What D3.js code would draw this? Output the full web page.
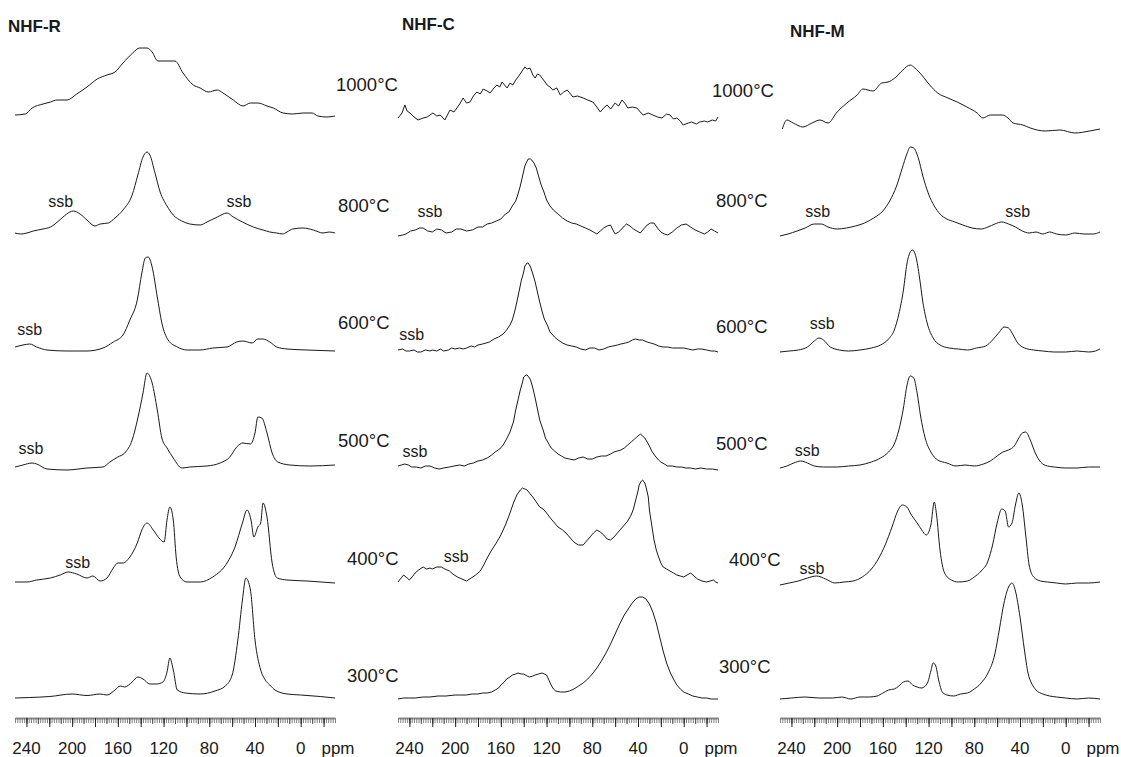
<!DOCTYPE html>
<html>
<head>
<meta charset="utf-8">
<script src="https://cdn.jsdelivr.net/npm/d3@7"></script>
<style>
  body { margin: 0; background: #fff; }
  svg { display: block; font-family: "Liberation Sans", Arial, sans-serif; }
  .spec { fill: none; stroke: #1a1a1a; stroke-width: 1; stroke-linejoin: round; }
  .temp { font-size: 18.5px; fill: #1a1a1a; }
  .ssb { font-size: 16px; fill: #1a1a1a; }
  .title { font-size: 17px; font-weight: bold; fill: #1a1a1a; }
  .tick-label { font-size: 17px; fill: #1a1a1a; }
</style>
</head>
<body>
<div id="chart"></div>
<script>
// ---- data: [ppm, intensity] ----
const panels = ['NHF-R', 'NHF-C', 'NHF-M'];
const temps = ['1000°C', '800°C', '600°C', '500°C', '400°C', '300°C'];
const tickLabels = [240, 200, 160, 120, 80, 40, 0];

const R1000 = [[250,1],[241,2],[235,8],[225.5,12],[219,14],[213,16],[204.5,16],[196,22],[187,29],[178,37],[169.5,41],[162.5,44],[155.5,53],[147,63],[141,68],[134.5,68],[130,64],[125,55],[117,55],[110,55],[103,43],[94,31],[88,28],[81,24],[73,26],[68,23],[59,16],[50.5,10],[44,13],[37.5,13],[29.5,10],[24,8],[15.5,3],[7,2],[-2,3],[-10,3],[-15,0],[-23,-1],[-30,0]];
const R800 = [[250,1],[245,0],[239.5,1],[234,3],[225.5,5],[219,7],[215,10],[208,17],[202,22],[199,23],[193,20],[187,14],[180,8],[175.5,10],[168.5,11],[162.5,16],[155.5,24],[147.5,39],[142.5,59],[138,77],[134.5,82],[132,79],[127.5,61],[123,42],[117,28],[111.5,19],[104,13],[97,10],[88,9],[82,12],[73,17],[64.5,21],[59,17],[51,12],[41.5,7],[33,4],[27,2],[21,1],[16,0],[12,2],[7,5],[-2,6],[-11,4],[-19.5,1],[-25,2],[-30,1]];
const R600 = [[250,4],[243,6],[237,7],[231,4],[222,1],[204.5,0],[187,0],[173,3],[164,9],[155.5,16],[149.5,31],[143,51],[139,78],[136,93],[133.5,94],[130,84],[125.5,54],[121.5,28],[116,11],[108,4],[99.5,1],[88,1],[77,3],[64.5,4],[56,9],[50.5,10],[42.5,8],[37.5,12],[33,12],[27,9],[21,4],[12,2],[-5.5,1],[-30,0]];
const R500 = [[250,2],[243,4],[235,6],[231,5],[222,0],[204.5,-1],[187,1],[173,2],[167,7],[160,12],[154,16],[147.5,29],[142.5,51],[138,76],[134.5,96],[130,86],[125.5,59],[121.5,31],[117,21],[111.5,11],[104,1],[97,2],[82,3],[70.5,6],[62,12],[56,22],[50.5,26],[44,25],[40,36],[37.5,52],[34,51],[29.5,36],[25,16],[20,7],[9.5,4],[-8,3],[-30,4]];
const R400 = [[250,0],[239.5,0],[231,2],[219,4],[210.5,7],[203.5,10],[196,8],[187,4],[182,6],[175.5,1],[169.5,4],[164,14],[160,19],[155.5,19],[149.5,25],[143,39],[139,52],[134.5,59],[129,52],[124,44],[119.5,40],[117,62],[114.5,75],[111.5,62],[109,25],[105.5,5],[99.5,0],[88,0],[77,5],[64.5,19],[57.5,35],[51,59],[47,72],[43.5,62],[41,45],[37.5,55],[35,59],[33,79],[29.5,65],[25,19],[20.5,4],[12,2],[-5.5,1],[-30,-1]];
const R300 = [[250,0],[237,0.5],[219.5,1.5],[200,4],[187,2.5],[175.5,4],[169.5,3],[162.5,8],[158,12],[154,11],[147.5,16],[142.5,21],[138,19],[132,14],[126,14],[120.5,16],[117,26],[114.5,40],[111.5,28],[108,8],[101,5],[88,4],[75,7],[66,12],[60,23],[55,58],[51,98],[48,120],[44,108],[40,58],[35,28],[31,18],[27,13],[22.5,8],[12,4],[0,3],[-17,1.5],[-30,0]];

const C1000 = [[250,3],[246.5,8],[244,16],[242,10],[239.5,8],[236,4],[232.5,1],[228,3],[224.5,4],[219.5,8],[216,5],[213,6],[209,1],[204.5,11],[201,9],[198.5,13],[196,17],[193,23],[190,18],[187,19],[184,25],[181,29],[178,27],[175.5,32],[172,30],[169.5,28],[166,33],[163.5,36],[161,34],[159,39],[156,35],[154.5,33],[152,38],[149.5,36],[147,41],[145,44],[142,49],[139,54],[137,52],[134.5,53],[132,46],[130,43],[128,47],[126,46],[122,40],[119.5,36],[117,34],[114.5,31],[111,33],[108,26],[105,29],[102,31],[99,27],[97,24],[93,25],[88,23],[84,21],[79.5,19],[76,14],[73,9],[70,13],[67,16],[64,12],[60,18],[57,15],[54,21],[51,17],[49,13],[45,14],[41,13],[38,9],[35.5,6],[31,8],[27,6],[23,4],[19,3],[15,7],[12,6],[9,2],[6,3],[3,0],[0.5,-4],[-4,-2],[-7,-1],[-11,-3],[-14,-1],[-18,0],[-21,-1],[-25,1],[-28,0],[-30,4]];
const C800 = [[250,0],[246,1],[243,2],[239,5],[235,6],[231,8],[228,8],[224,5],[220,4],[216,7],[212,6],[208,3],[203,4],[199,7],[195,7],[190,5],[185,6],[180,9],[176,9],[172,12],[168,13],[164,15],[160,17],[156,22],[153,24],[150,30],[147,35],[145,42],[143,50],[141,60],[139,70],[137,75],[136,77],[134,77],[133,76],[131,73],[129,68],[127,60],[125,52],[122,43],[120,36],[117,30],[114,26],[110,22],[106,18],[102,15],[98,13],[94,12],[90,10],[86,8],[82,6],[79,4],[76,2],[73,5],[70,8],[67,10],[64,11],[62,6],[60,2],[57,4],[55,6],[52,10],[50,12],[47,10],[44,7],[41,5],[38,3],[35,7],[32,11],[29,13],[26,13],[23,8],[20,4],[17,2],[14,1],[10,4],[6,8],[2,11],[-2,12],[-6,9],[-10,6],[-14,4],[-18,2],[-21,4],[-24,7],[-27,5],[-30,3]];
const C600 = [[250,2],[246,3],[243,1],[240,1],[236,2],[233,0],[230,0],[226,2],[222,1],[220,2],[216,1],[213,3],[210,1],[206,2],[203,4],[200,3],[196,4],[193,3],[190,4],[186,6],[183,5],[180,7],[176,8],[173,9],[170,10],[166,13],[162,15],[158,18],[155,22],[152,27],[150,32],[148,40],[146,50],[144,61],[142,72],[140,80],[139,86],[137,89],[136,89],[134,85],[132,78],[130,70],[128,60],[126,50],[124,41],[122,33],[119,26],[117,20],[113,15],[110,12],[106,9],[102,7],[98,6],[94,5],[90,3],[86,2],[82,4],[78,4],[74,2],[70,3],[66,5],[62,6],[58,7],[55,8],[51,9],[48,10],[45,12],[42,13],[39,12],[36,12],[32,10],[29,9],[26,8],[22,6],[18,5],[14,5],[10,4],[5,4],[0,4],[-4,3],[-8,2],[-12,3],[-16,3],[-20,2],[-24,1],[-27,1],[-30,0]];
const C500 = [[250,4],[247,5],[244,6],[241,5],[238,3],[234,3],[230,2],[226,4],[222,4],[218,2],[214,1],[210,2],[205,3],[201,4],[196,5],[192,4],[188,6],[184,7],[180,9],[176,10],[172,12],[168,15],[165,18],[161,21],[158,25],[155,31],[152,38],[149,48],[147,60],[145,70],[143,80],[141,88],[140,93],[138,95],[137,95],[135,92],[134,90],[132,82],[130,72],[128,61],[126,50],[123,40],[121,32],[118,26],[116,22],[113,19],[110,16],[107,14],[104,12],[100,11],[96,10],[92,12],[88,13],[84,11],[80,11],[76,13],[72,14],[68,14],[64,16],[61,18],[58,19],[55,20],[52,22],[49,25],[46,28],[43,31],[41,33],[39,35],[38,36],[36,34],[34,32],[32,28],[30,24],[28,19],[25,14],[22,10],[20,8],[17,6],[14,4],[10,4],[6,3],[2,3],[-2,2],[-6,2],[-10,1],[-15,2],[-20,1],[-25,1],[-30,0]];
const C400 = [[250,3],[248,6],[245,10],[242,7],[240,5],[237,9],[235,12],[232,15],[228,18],[225,16],[222,17],[220,16],[216,18],[212,18],[209,16],[205,14],[202,11],[198,8],[194,6],[190,4],[186,7],[182,10],[178,14],[175,20],[172,27],[168,35],[164,42],[160,50],[156,60],[152,72],[149,82],[146,90],[143,95],[141,97],[139,96],[137,95],[135,92],[132,88],[129,83],[126,78],[123,76],[120,72],[116,66],[113,62],[110,58],[106,55],[103,52],[100,48],[97,44],[95,42],[92,40],[88,40],[85,44],[82,48],[79,52],[76,55],[73,53],[70,50],[67,46],[64,45],[61,48],[58,52],[55,56],[52,60],[49,64],[46,70],[44,76],[42,85],[40,94],[39,100],[37,104],[36,105],[34,102],[33,98],[31,88],[30,75],[28,60],[26,45],[24,35],[22,28],[20,22],[18,18],[15,16],[12,14],[9,12],[6,10],[3,9],[0,8],[-3,10],[-6,12],[-9,9],[-12,6],[-16,4],[-20,3],[-23,4],[-26,5],[-28,3],[-30,2]];
const C300 = [[250,0],[245,1],[240,1],[235,1],[228,2],[222,2],[215,3],[208,3],[200,4],[195,4],[190,4],[185,5],[180,5],[176,6],[172,6],[168,7],[165,9],[162,11],[160,14],[157,17],[155,20],[152,22],[150,24],[147,25],[145,26],[142,25],[140,25],[137,23],[135,22],[132,23],[130,24],[127,25],[124,26],[122,25],[120,24],[118,19],[116,14],[114,10],[112,8],[108,7],[104,7],[100,8],[96,10],[92,13],[88,16],[84,20],[80,25],[76,31],[72,38],[68,46],[64,55],[60,65],[56,75],[52,84],[48,91],[45,96],[42,100],[39,102],[36,102],[33,100],[30,95],[27,87],[24,76],[21,62],[18,48],[15,36],[12,27],[9,20],[6,14],[3,10],[0,7],[-4,5],[-8,3],[-12,2],[-16,1],[-20,1],[-24,0],[-30,0]];

const M1000 = [[248,2],[244,11],[238.5,8],[230,4],[222,8],[215,11],[208,8],[200,19],[191.5,28],[182.5,36],[177.5,42],[168.5,40],[161,48],[155.5,49],[149.5,53],[142.5,61],[136,66],[132,63],[126,56],[119,46],[112,38],[103,33],[95,29],[86.5,24],[77.5,18],[72.5,13],[66,16],[55.5,16],[50.5,13],[46,8],[37.5,6],[31,3],[18,0],[5,1],[-8,-2],[-21,0],[-30,2]];
const M800 = [[250,0],[243,2],[235,5],[228,8],[220,12],[214,12],[208,9],[200,7],[192,8],[184,10],[176,13],[168,18],[160,25],[154,35],[148,50],[143,68],[139,82],[136,89],[133,88],[129,78],[125,60],[120,42],[115,30],[110,22],[104,17],[97,14],[90,11],[82,8],[74,7],[68,9],[62,12],[56,14],[50,12],[44,9],[38,5],[32,3],[26,4],[20,2],[14,4],[8,2],[0,1],[-8,3],[-16,2],[-24,2],[-30,4]];
const M600 = [[250,0],[242,1],[234,2],[226,5],[220,11],[216,14],[212,12],[206,5],[198,2],[190,1],[180,2],[170,4],[162,7],[155,13],[150,22],[146,38],[142,62],[139,88],[136,100],[134,102],[131,95],[128,75],[125,50],[121,28],[116,14],[110,7],[102,4],[94,3],[86,2],[78,4],[70,6],[64,12],[58,20],[54,25],[50,24],[46,17],[42,9],[36,4],[28,2],[20,1],[10,0],[0,0],[-10,1],[-20,0],[-26,1],[-30,3]];
const M500 = [[250,0],[244,2],[238,5],[232,7],[226,5],[220,2],[212,1],[200,1],[190,2],[180,3],[170,6],[162,10],[155,16],[150,24],[146,38],[142,60],[139,82],[136,92],[133,90],[130,75],[127,52],[123,30],[118,16],[112,8],[104,5],[96,2],[88,3],[80,2],[72,4],[66,7],[60,12],[55,16],[50,18],[45,22],[41,30],[38,35],[35,36],[31,28],[27,16],[22,6],[16,2],[10,1],[0,0],[-10,0],[-20,1],[-30,1]];
const M400 = [[250,0],[242,2],[234,4],[226,7],[218,9],[210,6],[202,2],[194,3],[186,4],[178,8],[170,16],[164,26],[158,40],[152,58],[147,74],[143,80],[139,78],[135,70],[130,62],[126,55],[122,50],[118,60],[115,83],[113,70],[110,35],[106,12],[100,5],[94,3],[86,4],[80,8],[74,14],[68,24],[64,40],[60,62],[56,76],[53,74],[50,58],[47,62],[44,80],[41,92],[38,80],[35,50],[32,20],[28,8],[22,4],[16,3],[8,2],[0,1],[-10,2],[-20,2],[-30,3]];
const M300 = [[250,0],[240,1],[228,2],[216,1],[204,1],[196,2],[188,0],[180,2],[172,2],[165,3],[160,6],[155,9],[150,10],[146,13],[142,17],[138,18],[134,14],[130,12],[126,11],[121,16],[118,28],[116,36],[114,34],[111,18],[108,7],[104,4],[98,3],[92,5],[86,6],[80,10],[74,16],[68,26],[62,45],[58,70],[54,96],[50,112],[47,116],[44,108],[40,82],[36,48],[33,26],[30,16],[26,9],[20,5],[14,3],[8,2],[0,1],[-10,0],[-20,1],[-30,0]];

const spectra = [
  [R1000, R800, R600, R500, R400, R300],
  [C1000, C800, C600, C500, C400, C300],
  [M1000, M800, M600, M500, M400, M300]
];

// ssb annotations: [panel, row, ppm position of the label start]
const ssbMarks = [[0,1,221],[0,1,65],[0,2,248],[0,3,247],[0,4,206],[1,1,233],[1,2,249],[1,3,246],[1,4,210],[2,1,228],[2,1,53],[2,2,224],[2,3,237],[2,4,233]];

// ---- layout ----
const width = 1121, height = 757;
const panelX = [15, 398, 780];
const rulerW = 320;
const rowBase = [[116,234,351,469,582,698],[121,236,352,470,585,699],[131,236,352,468,585,699]];
const ssbBase = [[190,207,335,454,568,0],[0,217,340,457,562,0],[0,217,329,456,574,0]];
const tempPos = [
  { x: 336, base: [91, 212, 329, 447, 565, 682], dx: [0, 2, 2, 2, 11, 11] },
  { x: 712, base: [97, 207, 333, 450, 566, 673], dx: [0, 4, 4, 4, 17, 7] }
];
const titlePos = [[8, 32], [402, 30], [790, 37]];
const rulerY = 718;

const svg = d3.select('#chart').append('svg')
  .attr('width', width)
  .attr('height', height);

panels.forEach(function (name, p) {
  const x = d3.scaleLinear().domain([250, -30]).range([panelX[p], panelX[p] + rulerW]);
  const g = svg.append('g').attr('class', 'panel');

  g.append('text').attr('class', 'title')
    .attr('x', titlePos[p][0]).attr('y', titlePos[p][1])
    .text(name);

  spectra[p].forEach(function (data, r) {
    const y = d3.scaleLinear().domain([0, 100]).range([rowBase[p][r], rowBase[p][r] - 100]);
    const line = d3.line()
      .x(d => x(d[0]))
      .y(d => y(d[1]))
      .curve(p === 1 ? d3.curveLinear : d3.curveMonotoneX);
    g.append('path').datum(data)
      .attr('class', 'spec')
      .attr('stroke-width', (p === 0 && r === 1) ? 1.4 : 1)
      .attr('d', line);
  });

  ssbMarks.filter(m => m[0] === p).forEach(function (m) {
    g.append('text').attr('class', 'ssb')
      .attr('x', x(m[2])).attr('y', ssbBase[p][m[1]])
      .text('ssb');
  });

  // ruler
  const ruler = g.append('g').attr('transform', 'translate(0,' + rulerY + ')');
  ruler.call(d3.axisBottom(x).tickValues(d3.range(-30, 251, 2)).tickSize(5).tickSizeOuter(0).tickFormat(''));
  ruler.select('.domain').attr('stroke', '#8a8a8a').attr('stroke-width', 2);
  ruler.selectAll('.tick line').attr('stroke', '#777').attr('stroke-width', 0.9);
  const major = g.append('g').attr('transform', 'translate(0,' + rulerY + ')');
  major.call(d3.axisBottom(x).tickValues(d3.range(-20, 241, 10)).tickSize(6).tickSizeOuter(0).tickFormat(''));
  major.select('.domain').remove();
  major.selectAll('.tick line').attr('stroke', '#555').attr('stroke-width', 1);
  const major2 = g.append('g').attr('transform', 'translate(0,' + rulerY + ')');
  major2.call(d3.axisBottom(x).tickValues(d3.range(-20, 241, 20)).tickSize(9).tickSizeOuter(0).tickFormat(''));
  major2.select('.domain').remove();
  major2.selectAll('.tick line').attr('stroke', '#222').attr('stroke-width', 1);

  g.selectAll('.tick-label').data(tickLabels).enter().append('text')
    .attr('class', 'tick-label')
    .attr('text-anchor', 'middle')
    .attr('x', d => x(d)).attr('y', 754)
    .text(d => d);
  g.append('text').attr('class', 'tick-label')
    .attr('text-anchor', 'middle')
    .attr('x', x(-30) + 3).attr('y', 754)
    .text('ppm');
});

tempPos.forEach(function (t) {
  temps.forEach(function (label, r) {
    svg.append('text').attr('class', 'temp')
      .attr('x', t.x + t.dx[r]).attr('y', t.base[r])
      .text(label);
  });
});
</script>
</body>
</html>
